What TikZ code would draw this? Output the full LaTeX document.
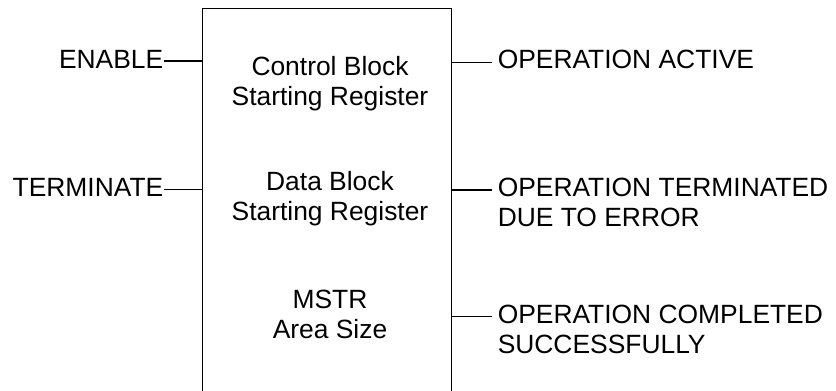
\documentclass[tikz,border=0pt]{standalone}
\usepackage{fontspec}
\setmainfont{Liberation Sans}
\begin{document}
\begin{tikzpicture}[x=1bp, y=-1bp, line width=1.5bp,
    txt/.style={font=\fontsize{26.5pt}{30.1pt}\selectfont, inner sep=0pt},
    inlbl/.style={txt, anchor=base east},
    outlbl/.style={txt, anchor=base west, align=left, inner xsep=5.5bp},
    boxtxt/.style={txt, anchor=base, align=center}]
    \useasboundingbox (0,0) rectangle (836,390);

    % Block (runs past the bottom edge)
    \node[draw, minimum width=249bp, minimum height=400bp, anchor=north, inner sep=0pt] (box) at (327,7.5) {};

    % Block contents (base = last line)
    \node[boxtxt] (ctl) at (330,105) {Control Block\\Starting Register};
    \node[boxtxt] (dat) at (330,220) {Data Block\\Starting Register};
    \node[boxtxt] (area) at (330,338) {MSTR\\Area Size};

    % Inputs
    \coordinate (i1) at (202.5,61);
    \coordinate (i2) at (202.5,189.5);
    \node[inlbl] (enable) at (164,68) {ENABLE};
    \node[inlbl] (term) at (164,196.5) {TERMINATE};
    \draw (i1 -| enable.east) -- (i1 -| box.west);
    \draw (i2 -| term.east) -- (i2 -| box.west);

    % Outputs
    \coordinate (p1) at (451.5,62.5);
    \coordinate (p2) at (451.5,190);
    \coordinate (p3) at (451.5,316.5);
    \node[outlbl] (active) at (491.5,68.5) {OPERATION ACTIVE};
    \node[outlbl] (error) at (491.5,226.6) {OPERATION TERMINATED\\DUE TO ERROR};
    \node[outlbl] (done) at (491.5,353.2) {OPERATION COMPLETED\\SUCCESSFULLY};
    \draw (p1 -| box.east) -- (p1 -| active.west);
    \draw (p2 -| box.east) -- (p2 -| error.west);
    \draw (p3 -| box.east) -- (p3 -| done.west);
\end{tikzpicture}
\end{document}
